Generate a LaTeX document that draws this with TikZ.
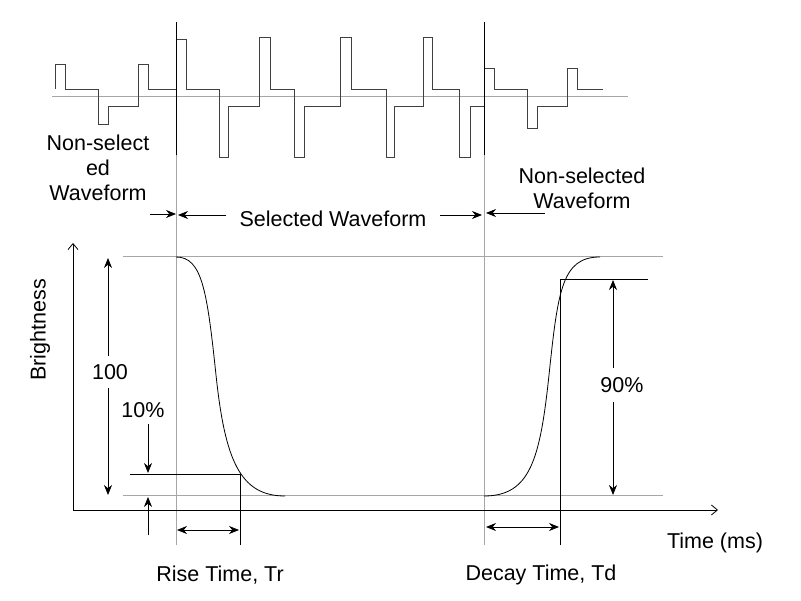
\documentclass[tikz,border=0pt]{standalone}
\usepackage{fontspec}
\setmainfont{Liberation Sans}
\usetikzlibrary{arrows.meta}
\begin{document}
\begin{tikzpicture}[x=1pt,y=-1pt,
  wave/.style={line width=0.9pt,black!75},
  gl/.style={line width=1pt,gray!70},
  thin/.style={line width=0.8pt,black},
  dim/.style={line width=0.8pt,black,-{Stealth[length=10pt,width=8pt]}},
  dd/.style={line width=0.8pt,black,{Stealth[length=10pt,width=8pt]}-{Stealth[length=10pt,width=8pt]}},
  lbl/.style={font=\fontsize{21.5}{25}\selectfont,align=center,inner sep=0pt}]
\useasboundingbox (0,0) rectangle (801,601);
% top waveform
\draw[gl] (52,97) -- (628,97);
\draw[wave] (55,89)--(55,64)--(65,64)--(65,89)--(98,89)--(98,124)--(108,124)--(108,106)--(138,106)--(138,64)--(148,64)--(148,89)--(176,89)
 --(176,39)--(186,39)--(186,89)--(219,89)--(219,157)--(228,157)--(228,106)--(259,106)--(259,37)--(270,37)--(270,89)
 --(294,89)--(294,157)--(304,157)--(304,106)--(340,106)--(340,37)--(351,37)--(351,89)
 --(386,89)--(386,157)--(394,157)--(394,106)--(423,106)--(423,37)--(432,37)--(432,89)
 --(459,89)--(459,157)--(470,157)--(470,106)--(484,106)
 --(484,68)--(494,68)--(494,89)--(527,89)--(527,128)--(537,128)--(537,106)--(567,106)--(567,68)--(577,68)--(577,89)--(603,89);
% vertical markers
\coordinate (s1) at (176,22); \coordinate (s1b) at (176,545);
\coordinate (s2) at (484,22); \coordinate (s2b) at (484,545);
\draw[thin] (s1) -- (176,155); \draw[gl,line width=0.8pt] (176,155) -- (s1b);
\draw[thin] (s2) -- (484,155); \draw[gl,line width=0.8pt] (484,155) -- (s2b);
% labels top
\node[lbl] (ns1) at (98,168) {Non-select\\ed\\Waveform};
\node[lbl] (sw) at (333,219) {Selected Waveform};
\node[lbl] (ns2) at (582,188) {Non-selected\\Waveform};
\draw[dim] (150,214) -- (176,214);
\draw[dim] (226,215) -- (178,215);
\draw[dim] (440,215) -- (482,215);
\draw[dim] (545,213) -- (486,213);
% axes
\coordinate (o) at (73,510);
\draw[thin,-{Straight Barb[length=6pt,width=10pt]}] (o) -- (718,510);
\draw[thin,-{Straight Barb[length=6pt,width=10pt]}] (o) -- (73,243);
\node[lbl,rotate=90] (br) at (40,330) {Brightness};
\node[lbl] (tm) at (715,543) {Time (ms)};
% levels
\draw[gl] (123,257) -- (663,257);
\draw[gl] (123,496) -- (663,496);
% curves
\draw[line width=0.8pt] (176,257) .. controls (202,257) and (207,290) .. (216,375) .. controls (225,460) and (240,496) .. (285,496);
\draw[line width=0.8pt] (484,496) .. controls (530,496) and (540,460) .. (549,375) .. controls (558,290) and (562,257) .. (600,257);
% 10% and 90%
\draw[thin] (130,474) -- (240,474) -- (240,545);
\draw[thin] (560,545) -- (560,279) -- (648,279);
% 100 arrow
\node[lbl] (h) at (110,372) {100};
\draw[dim] (108,356) -- (108,258);
\draw[dim] (108,388) -- (108,495);
\node[lbl] (p10) at (143,410) {10\%};
\draw[dim] (148,424) -- (148,473);
\draw[dim] (148,535) -- (148,497);
\node[lbl] (p90) at (622,385) {90\%};
\draw[dim] (613,368) -- (613,280);
\draw[dim] (613,402) -- (613,495);
\draw[dd] (177,530) -- (239,530);
\draw[dd] (486,527) -- (559,527);
\node[lbl] (rt) at (220,575) {Rise Time, Tr};
\node[lbl] (dt) at (541,575) {Decay Time, Td};
\end{tikzpicture}
\end{document}
